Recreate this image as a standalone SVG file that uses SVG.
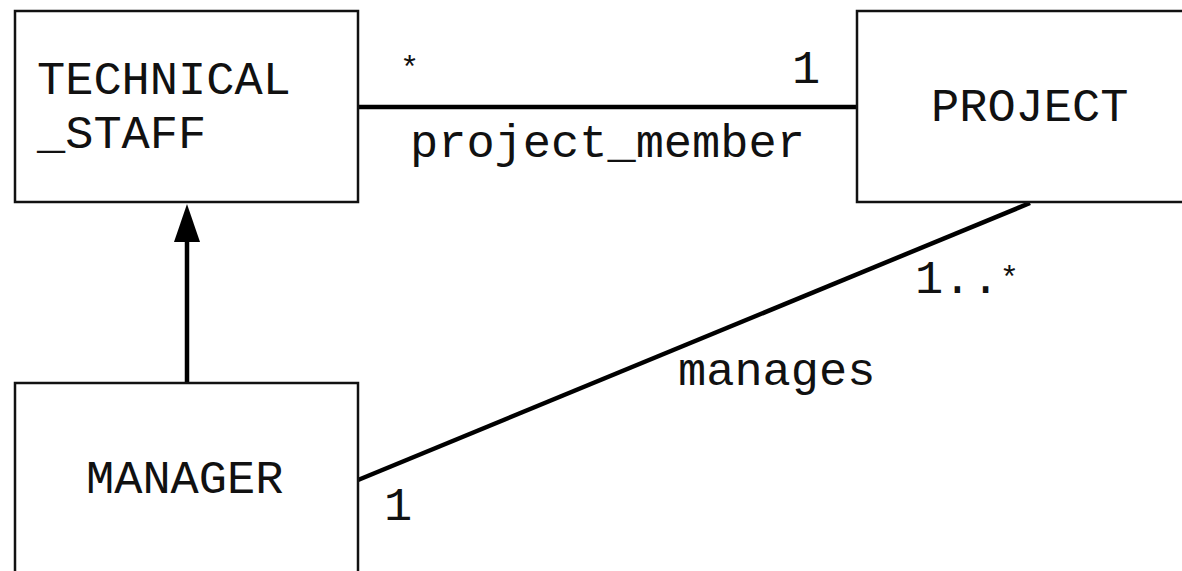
<svg xmlns="http://www.w3.org/2000/svg" width="1182" height="571" viewBox="0 0 1182 571">
<defs>
<style>
.box{fill:#fff;stroke:#111;stroke-width:2.5}
.t{font-family:"Liberation Mono","Courier New",monospace;font-size:47px;fill:#111}
.s{font-size:32px}
.ln{stroke:#000;stroke-width:4.5;fill:none}
</style>
</defs>
<rect width="1182" height="571" fill="#fff"/>
<g id="connectors">
<line class="ln" x1="358" y1="107" x2="857" y2="107"/>
<line class="ln" x1="358" y1="480" x2="1030" y2="203"/>
<path d="M187 383 L187 240" class="ln"/>
<path d="M187 204 L200 242 L174 242 Z" fill="#000"/>
<text class="t s" x="400" y="78">*</text>
<text class="t" x="792" y="83">1</text>
<text class="t" x="410" y="157">project_member</text>
<text class="t" x="915" y="293">1..<tspan class="s" dy="-5">*</tspan></text>
<text class="t" x="678" y="385">manages</text>
<text class="t" x="384" y="520">1</text>
</g>
<g id="technical_staff">
<rect class="box" x="15" y="11" width="343" height="191"/>
<text class="t" x="37" y="94">TECHNICAL</text>
<text class="t" x="37" y="148">_STAFF</text>
</g>
<g id="project">
<rect class="box" x="857" y="11" width="340" height="191"/>
<text class="t" x="931" y="121">PROJECT</text>
</g>
<g id="manager">
<rect class="box" x="15" y="383" width="343" height="200"/>
<text class="t" x="86" y="493">MANAGER</text>
</g>
</svg>
